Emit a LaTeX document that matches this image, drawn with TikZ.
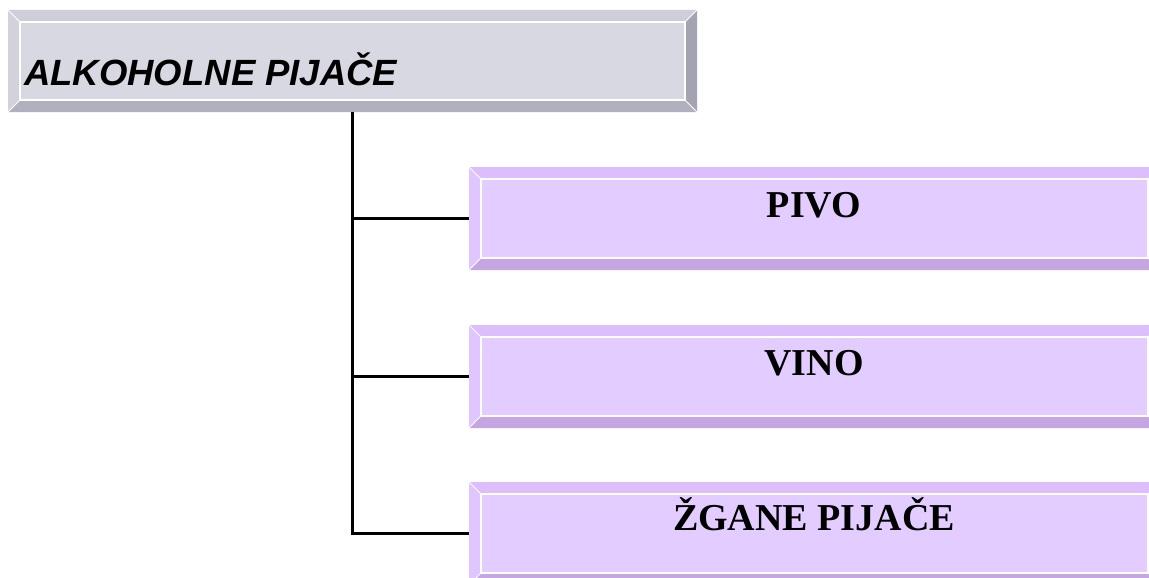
\documentclass[tikz,border=0pt]{standalone}
\usepackage{fontspec}
\setmainfont{Liberation Serif}
\newfontfamily\arialfont{Liberation Sans}
\usetikzlibrary{calc}

% grey bevel palette (title box)
\definecolor{greyface}{RGB}{216,216,226}
\definecolor{greytop}{RGB}{206,206,218}
\definecolor{greyleft}{RGB}{210,210,221}
\definecolor{greybottom}{RGB}{176,176,190}
\definecolor{greyright}{RGB}{163,163,177}
% lilac bevel palette (item boxes)
\definecolor{lilacface}{RGB}{227,204,255}
\definecolor{lilactop}{RGB}{220,190,252}
\definecolor{lilacleft}{RGB}{224,198,255}
\definecolor{lilacbottom}{RGB}{197,166,227}
\definecolor{lilacright}{RGB}{185,154,214}

\tikzset{
  outerbox/.style={rectangle, inner sep=0pt, outer sep=0pt},
  trunk/.style={line width=2.2pt, black},
  titletext/.style={anchor=base west, inner sep=0pt,
    font=\arialfont\bfseries\itshape\fontsize{36.5}{39}\selectfont},
  itemtext/.style={anchor=base, inner sep=0pt,
    font=\bfseries\fontsize{38}{40}\selectfont},
}

% bevelled button: #1 node name, #2 face, #3 top, #4 left, #5 bottom, #6 right
\newcommand{\bevelbox}[6]{%
  \fill[#3] (#1.north west) -- (#1.north east) -- ($(#1.north east)+(-12,12)$) -- ($(#1.north west)+(12,12)$) -- cycle;
  \fill[#4] (#1.north west) -- ($(#1.north west)+(12,12)$) -- ($(#1.south west)+(12,-12)$) -- (#1.south west) -- cycle;
  \fill[#5] (#1.south west) -- ($(#1.south west)+(12,-12)$) -- ($(#1.south east)+(-12,-12)$) -- (#1.south east) -- cycle;
  \fill[#6] (#1.north east) -- (#1.south east) -- ($(#1.south east)+(-12,-12)$) -- ($(#1.north east)+(-12,12)$) -- cycle;
  \draw[white, line width=0.8pt] (#1.north west) -- ($(#1.north west)+(12,12)$)
    (#1.north east) -- ($(#1.north east)+(-12,12)$)
    (#1.south west) -- ($(#1.south west)+(12,-12)$)
    (#1.south east) -- ($(#1.south east)+(-12,-12)$);
  \filldraw[fill=#2, draw=white, line width=1.2pt] ($(#1.north west)+(12,12)$) rectangle ($(#1.south east)+(-12,-12)$);
}

\begin{document}
\begin{tikzpicture}[x=1pt, y=-1pt]
  \useasboundingbox (0,0) rectangle (1149,578);
  \fill[white] (0,0) rectangle (1149,578);
  \begin{scope}
  \clip (0,0) rectangle (1149,578);

  % boxes (outer extents)
  \node[outerbox, minimum width=689pt, minimum height=102pt] (top) at (352.5,61) {};
  \node[outerbox, minimum width=691pt, minimum height=103pt] (p1) at (814.5,218.5) {};
  \node[outerbox, minimum width=691pt, minimum height=103pt] (p2) at (814.5,376.5) {};
  \node[outerbox, minimum width=691pt, minimum height=103pt] (p3) at (814.5,533.5) {};

  \bevelbox{top}{greyface}{greytop}{greyleft}{greybottom}{greyright}
  \bevelbox{p1}{lilacface}{lilactop}{lilacleft}{lilacbottom}{lilacright}
  \bevelbox{p2}{lilacface}{lilactop}{lilacleft}{lilacbottom}{lilacright}
  \bevelbox{p3}{lilacface}{lilactop}{lilacleft}{lilacbottom}{lilacright}

  % connectors
  \draw[trunk] (top.south) |- (p3.west);
  \draw[trunk] (top.south |- p1.west) -- (p1.west);
  \draw[trunk] (top.south |- p2.west) -- (p2.west);

  % labels
  \node[titletext] (ttitle) at (24,85) {ALKOHOLNE PIJAČE};
  \node[itemtext] (t1) at (814,217) {PIVO};
  \node[itemtext] (t2) at (814,375) {VINO};
  \node[itemtext] (t3) at (814,530) {ŽGANE PIJAČE};
  \end{scope}
\end{tikzpicture}
\end{document}
